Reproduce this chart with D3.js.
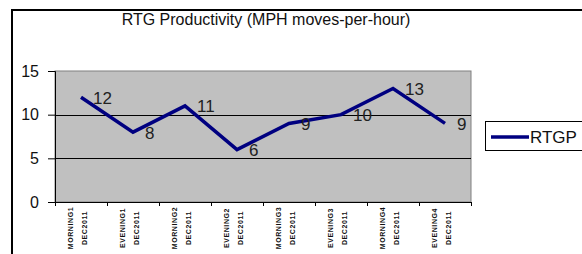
<!DOCTYPE html>
<html><head><meta charset="utf-8">
<script src="https://cdn.jsdelivr.net/npm/d3@7"></script>
<style>body{margin:0;background:#fff;}svg{display:block;}text{font-family:"Liberation Sans",Arial,sans-serif;}</style>
</head><body>
<script>
const categories = ["MORNING1|DEC2011","EVENING1|DEC2011","MORNING2|DEC2011","EVENING2|DEC2011","MORNING3|DEC2011","EVENING3|DEC2011","MORNING4|DEC2011","EVENING4|DEC2011"];
const values = [12, 8, 11, 6, 9, 10, 13, 9];
const yTicks = [0, 5, 10, 15];
const seriesName = "RTGP";
const title = "RTG Productivity (MPH moves-per-hour)";

const W = 582, H = 254;
const svg = d3.select("body").append("svg").attr("width", W).attr("height", H);

// outer frame (cropped)
svg.append("rect").attr("x", 12).attr("y", 10).attr("width", 700).attr("height", 400)
  .attr("fill", "#fff").attr("stroke", "#000").attr("stroke-width", 2);

svg.append("text").attr("x", 266).attr("y", 25).attr("text-anchor", "middle")
  .attr("font-size", 16).attr("fill", "#111").text(title);

const pl = 55, pr = 471, pt = 71, pb = 202;
const x = d3.scaleBand().domain(categories).range([pl, pr]);
const y = d3.scaleLinear().domain([0, 15]).range([pb, pt]);

svg.append("rect").attr("x", pl).attr("y", pt).attr("width", pr - pl).attr("height", pb - pt)
  .attr("fill", "#c0c0c0").attr("stroke", "#808080").attr("stroke-width", 1);

// gridlines
svg.append("g").selectAll("line").data(yTicks.filter(d => d > 0 && d < 15)).join("line")
  .attr("x1", pl).attr("x2", pr).attr("y1", d => Math.round(y(d)) + 0.5).attr("y2", d => Math.round(y(d)) + 0.5)
  .attr("stroke", "#000").attr("stroke-width", 1);

// y axis
const ya = svg.append("g").attr("transform", `translate(${pl},0)`)
  .call(d3.axisLeft(y).tickValues(yTicks).tickSize(7).tickPadding(9).tickFormat(d3.format("d")));
ya.select(".domain").attr("stroke", "#000");
ya.selectAll(".tick line").attr("stroke", "#000");
ya.selectAll("text").attr("font-size", 16).attr("fill", "#111").attr("font-family", "Liberation Sans, Arial, sans-serif");

// x axis
const xa = svg.append("g").attr("transform", `translate(0,${pb})`);
xa.append("line").attr("x1", pl).attr("x2", pr).attr("y1", 0.5).attr("y2", 0.5).attr("stroke", "#000");
const bounds = categories.map(c => x(c)).concat([pr]);
xa.selectAll("line.tk").data(bounds).join("line").attr("class", "tk")
  .attr("x1", d => Math.round(d) + 0.5).attr("x2", d => Math.round(d) + 0.5).attr("y1", 0).attr("y2", 4)
  .attr("stroke", "#000");
const lab = xa.selectAll("g.lab").data(categories).join("g").attr("class", "lab");
lab.each(function(c) {
  const parts = c.split("|");
  const cx = x(c) + x.bandwidth() / 2;
  const g = d3.select(this);
  g.append("text").attr("transform", `translate(${cx - 10.5},26) rotate(-90)`)
    .attr("text-anchor", "middle").attr("dominant-baseline", "central")
    .attr("font-size", 7).attr("font-weight", "bold").attr("letter-spacing", 0.6).attr("fill", "#111").text(parts[0]);
  g.append("text").attr("transform", `translate(${cx + 3},26) rotate(-90)`)
    .attr("text-anchor", "middle").attr("dominant-baseline", "central")
    .attr("font-size", 7).attr("font-weight", "bold").attr("letter-spacing", 0.6).attr("fill", "#111").text(parts[1]);
});

// line
const line = d3.line().x((d, i) => x(categories[i]) + x.bandwidth() / 2).y(d => y(d));
svg.append("path").datum(values).attr("d", line).attr("fill", "none")
  .attr("stroke", "#000080").attr("stroke-width", 3.5).attr("stroke-linejoin", "miter");

// data labels
svg.append("g").selectAll("text").data(values).join("text")
  .attr("x", (d, i) => x(categories[i]) + x.bandwidth() / 2 + 12)
  .attr("y", d => y(d) + 1).attr("dominant-baseline", "central")
  .attr("font-size", 17).attr("fill", "#222").text(d => d);

// legend
svg.append("rect").attr("x", 485.5).attr("y", 121.5).attr("width", 98).attr("height", 29)
  .attr("fill", "#fff").attr("stroke", "#000").attr("stroke-width", 1);
svg.append("line").attr("x1", 491).attr("x2", 529).attr("y1", 137).attr("y2", 137)
  .attr("stroke", "#000080").attr("stroke-width", 3.5);
svg.append("text").attr("x", 530).attr("y", 143).attr("font-size", 17).attr("fill", "#111").text(seriesName);
</script>
</body></html>
